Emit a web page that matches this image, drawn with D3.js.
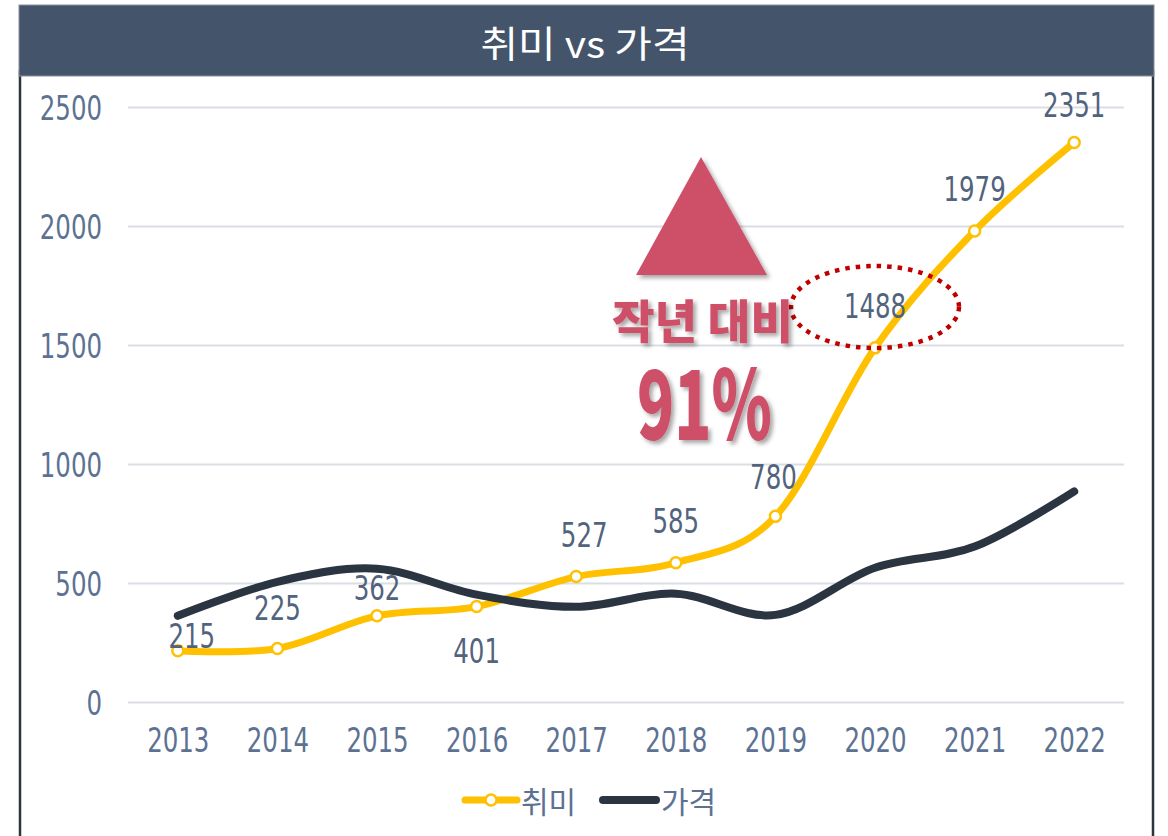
<!DOCTYPE html>
<html>
<head>
<meta charset="utf-8">
<script src="https://cdn.jsdelivr.net/npm/d3@7"></script>
<style>
  html, body { margin: 0; padding: 0; background: #fff; }
  svg { display: block; }
  .num { font-family: "Liberation Sans Narrow", "DejaVu Sans Condensed", "Roboto", sans-serif; font-stretch: condensed; }
  .kr { font-family: "Noto Sans CJK KR", "Noto Sans", sans-serif; }
</style>
</head>
<body>
<svg id="chart" width="1168" height="836"></svg>
<script>
// ------------ DATA -----------------
const years = ["2013", "2014", "2015", "2016", "2017", "2018", "2019", "2020", "2021", "2022"];
const hobby = [215, 225, 362, 401, 527, 585, 780, 1488, 1979, 2351];   // 취미
const price = [362, 505, 560, 451, 400, 455, 366, 564, 653, 885];      // 가격
const yTicks = [0, 500, 1000, 1500, 2000, 2500];
const seriesNames = ["취미", "가격"];
const titleText = "취미 vs 가격";
const noteText = "작년 대비";
const noteValue = "91%";

// label nudges (layout only)
const labelNudge = [[14, -15], [0, -41], [0, -28], [0, 44], [8, -42], [0, -42], [-2, -40], [0, -42], [0, -42], [0, -38]];

// ------------ SETUP -----------------
const svg = d3.select("#chart");
const yellow = "#FFC000";
const dark = "#2B3441";
const tickColor = "#5D7293";
const labelColor = "#52637D";
const accent = "#CE5068";
const squeezeK = 0.8;   // narrow the number font horizontally

const x = d3.scalePoint().domain(years).range([128, 1124]).padding(0.5);
const y = d3.scaleLinear().domain([0, 2500]).range([702, 107]);

// move x/y into a transform so the glyphs can be squeezed around their anchor
function squeeze(sel) {
  sel.each(function () {
    const t = d3.select(this);
    const tx = +t.attr("x") || 0, ty = +t.attr("y") || 0;
    t.attr("x", 0).attr("y", 0)
      .attr("transform", `translate(${tx},${ty}) scale(${squeezeK},1)`);
  });
}

const defs = svg.append("defs");
const shadow = defs.append("filter").attr("id", "shadow")
  .attr("x", "-20%").attr("y", "-20%").attr("width", "150%").attr("height", "150%");
shadow.append("feDropShadow")
  .attr("dx", 3).attr("dy", 3).attr("stdDeviation", 2)
  .attr("flood-color", "#000").attr("flood-opacity", 0.35);

// frame + title bar
svg.append("line").attr("x1", 20).attr("x2", 20).attr("y1", 70).attr("y2", 836)
  .attr("stroke", "#2D3440").attr("stroke-width", 2.5);
svg.append("line").attr("x1", 1153).attr("x2", 1153).attr("y1", 70).attr("y2", 836)
  .attr("stroke", "#2D3440").attr("stroke-width", 2.5);
svg.append("rect").attr("x", 19).attr("y", 5).attr("width", 1135).attr("height", 71)
  .attr("fill", "#44546A").attr("stroke", "#8A9099").attr("stroke-width", 1);
svg.append("text").attr("class", "kr")
  .attr("x", 585).attr("y", 42)
  .attr("text-anchor", "middle").attr("dominant-baseline", "central")
  .attr("font-size", 37).attr("font-weight", 400).attr("fill", "#fff")
  .attr("textLength", 209).attr("lengthAdjust", "spacingAndGlyphs")
  .text(titleText);

// ------------ AXES -----------------
const yAxis = svg.append("g").attr("transform", "translate(128,0)")
  .call(d3.axisLeft(y).tickValues(yTicks).tickFormat(d3.format("d")).tickSize(-996).tickPadding(26));
yAxis.select(".domain").remove();
yAxis.selectAll(".tick line").attr("stroke", "#D9DDE4").attr("stroke-width", 2);
yAxis.selectAll(".tick text").attr("class", "num")
  .attr("font-size", 34).attr("fill", tickColor).attr("dy", null)
  .attr("dominant-baseline", "central")
  .call(squeeze);

const xAxis = svg.append("g").attr("transform", "translate(0,702)")
  .call(d3.axisBottom(x).tickSize(0).tickPadding(38));
xAxis.select(".domain").remove();
xAxis.selectAll(".tick text").attr("class", "num")
  .attr("font-size", 34).attr("fill", tickColor).attr("dy", null)
  .attr("dominant-baseline", "central")
  .call(squeeze);

// ------------ LINES -----------------
const line = d3.line()
  .x((d, i) => x(years[i]))
  .y(d => y(d))
  .curve(d3.curveCardinal.tension(0));

svg.append("path").datum(hobby)
  .attr("d", line).attr("fill", "none")
  .attr("stroke", yellow).attr("stroke-width", 7)
  .attr("stroke-linecap", "round").attr("stroke-linejoin", "round");

svg.append("path").datum(price)
  .attr("d", line).attr("fill", "none")
  .attr("stroke", dark).attr("stroke-width", 8)
  .attr("stroke-linecap", "round").attr("stroke-linejoin", "round");

svg.selectAll("circle.pt").data(hobby).enter().append("circle")
  .attr("class", "pt")
  .attr("cx", (d, i) => x(years[i])).attr("cy", d => y(d))
  .attr("r", 5.5).attr("fill", "#fff")
  .attr("stroke", yellow).attr("stroke-width", 2.5);

svg.selectAll("text.lbl").data(hobby).enter().append("text")
  .attr("class", "lbl num")
  .attr("x", (d, i) => x(years[i]) + labelNudge[i][0])
  .attr("y", (d, i) => y(d) + labelNudge[i][1])
  .attr("text-anchor", "middle").attr("dominant-baseline", "central")
  .attr("font-size", 34).attr("fill", labelColor)
  .text(d => d)
  .call(squeeze);

// ------------ ANNOTATION -----------------
svg.append("ellipse")
  .attr("cx", x("2020")).attr("cy", 307).attr("rx", 84).attr("ry", 41)
  .attr("fill", "none").attr("stroke", "#C00000")
  .attr("stroke-width", 4.5).attr("stroke-dasharray", "4.5 6");

svg.append("path")
  .attr("d", "M701,157 L767,275 L636,275 Z")
  .attr("fill", accent).attr("filter", "url(#shadow)");

svg.append("text").attr("class", "kr")
  .attr("x", 612).attr("y", 318)
  .attr("dominant-baseline", "central")
  .attr("font-size", 46).attr("font-weight", 900).attr("fill", accent)
  .attr("textLength", 181).attr("lengthAdjust", "spacingAndGlyphs")
  .attr("filter", "url(#shadow)")
  .text(noteText);

svg.append("text").attr("class", "kr")
  .attr("x", 637).attr("y", 440)
  .attr("font-size", 96).attr("font-weight", 900).attr("fill", accent)
  .attr("textLength", 135).attr("lengthAdjust", "spacingAndGlyphs")
  .attr("filter", "url(#shadow)")
  .text(noteValue);

// ------------ LEGEND -----------------
const legend = svg.append("g").attr("transform", "translate(0,800)");
legend.append("line").attr("x1", 465).attr("x2", 517).attr("y1", 0).attr("y2", 0)
  .attr("stroke", yellow).attr("stroke-width", 7).attr("stroke-linecap", "round");
legend.append("circle").attr("cx", 491).attr("cy", 0).attr("r", 5.5)
  .attr("fill", "#fff").attr("stroke", yellow).attr("stroke-width", 2.5);
legend.append("text").attr("class", "kr").attr("x", 521).attr("y", 0)
  .attr("dominant-baseline", "central").attr("font-size", 30).attr("fill", tickColor)
  .text(seriesNames[0]);
legend.append("line").attr("x1", 603).attr("x2", 656).attr("y1", 0).attr("y2", 0)
  .attr("stroke", dark).attr("stroke-width", 8).attr("stroke-linecap", "round");
legend.append("text").attr("class", "kr").attr("x", 661).attr("y", 0)
  .attr("dominant-baseline", "central").attr("font-size", 30).attr("fill", tickColor)
  .text(seriesNames[1]);
</script>
</body>
</html>
